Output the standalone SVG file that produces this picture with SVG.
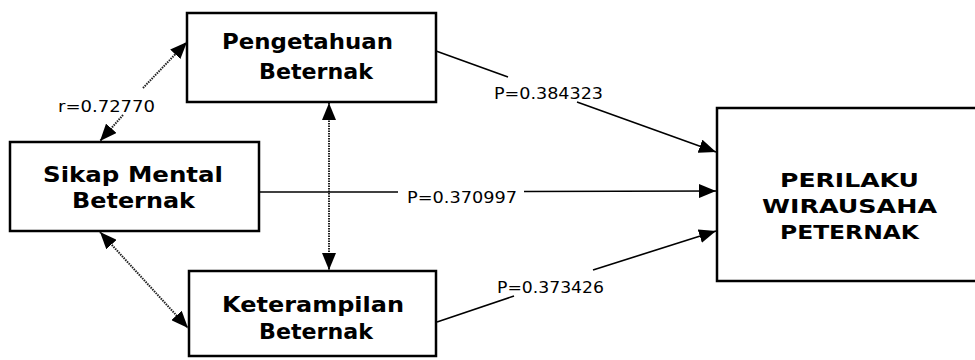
<svg xmlns="http://www.w3.org/2000/svg" width="975" height="360" viewBox="0 0 975 360">
  <style>
    .box { fill: #ffffff; stroke: #000000; stroke-width: 2.5; }
    .name { font-family: "DejaVu Sans", Verdana, "Liberation Sans", sans-serif; font-weight: bold; fill: #000000; }
    .coef { font-family: "DejaVu Sans", Verdana, "Liberation Sans", sans-serif; font-size: 16px; fill: #000000; }
    .path { fill: none; stroke: #000000; stroke-width: 1.6; }
    .corr { fill: none; stroke: #222222; stroke-width: 2; stroke-dasharray: 1.5 1; }
  </style>
  <defs>
    <marker id="head" viewBox="0 0 17 14" refX="17" refY="7" markerWidth="17" markerHeight="14" markerUnits="userSpaceOnUse" orient="auto-start-reverse">
      <path d="M0,0 L17,7 L0,14 Z" fill="#000000"/>
    </marker>
  </defs>

  <rect width="975" height="360" fill="#ffffff"/>

  <!-- connectors -->
  <g id="connectors">
    <!-- correlations (dotted, double-headed) -->
    <line class="corr" x1="123" y1="115" x2="100" y2="141" marker-end="url(#head)"/>
    <line class="corr" x1="143" y1="88" x2="187" y2="42" marker-end="url(#head)"/>
    <line class="corr" x1="329" y1="103" x2="329" y2="270" marker-start="url(#head)" marker-end="url(#head)"/>
    <line class="corr" x1="100" y1="232" x2="188" y2="328" marker-start="url(#head)" marker-end="url(#head)"/>

    <!-- paths to PERILAKU WIRAUSAHA PETERNAK -->
    <line class="path" x1="436" y1="51" x2="508" y2="77"/>
    <line class="path" x1="577" y1="102" x2="716" y2="152" marker-end="url(#head)"/>

    <line class="path" x1="259" y1="192" x2="398" y2="192"/>
    <line class="path" x1="524" y1="191.5" x2="716" y2="191" marker-end="url(#head)"/>

    <line class="path" x1="437" y1="322" x2="514" y2="296"/>
    <line class="path" x1="593" y1="270" x2="716" y2="231" marker-end="url(#head)"/>

    <text class="coef" x="58" y="112" textLength="97" lengthAdjust="spacingAndGlyphs">r=0.72770</text>
    <text class="coef" x="494" y="99" textLength="109" lengthAdjust="spacingAndGlyphs">P=0.384323</text>
    <text class="coef" x="407" y="203" textLength="110" lengthAdjust="spacingAndGlyphs">P=0.370997</text>
    <text class="coef" x="497" y="293" textLength="107" lengthAdjust="spacingAndGlyphs">P=0.373426</text>
  </g>

  <g id="pengetahuan">
    <rect class="box" x="187" y="13" width="249" height="89"/>
    <text class="name" font-size="22" x="222" y="49" textLength="171" lengthAdjust="spacingAndGlyphs">Pengetahuan</text>
    <text class="name" font-size="22" x="259" y="79" textLength="114" lengthAdjust="spacingAndGlyphs">Beternak</text>
  </g>

  <g id="sikap-mental">
    <rect class="box" x="10" y="142" width="249" height="89"/>
    <text class="name" font-size="22" x="43" y="182" textLength="180" lengthAdjust="spacingAndGlyphs">Sikap Mental</text>
    <text class="name" font-size="22" x="72" y="208" textLength="123" lengthAdjust="spacingAndGlyphs">Beternak</text>
  </g>

  <g id="keterampilan">
    <rect class="box" x="189" y="271" width="247" height="85"/>
    <text class="name" font-size="22" x="222" y="312" textLength="182" lengthAdjust="spacingAndGlyphs">Keterampilan</text>
    <text class="name" font-size="22" x="259" y="339" textLength="114" lengthAdjust="spacingAndGlyphs">Beternak</text>
  </g>

  <g id="perilaku">
    <rect class="box" x="717" y="108" width="270" height="173"/>
    <text class="name" font-size="19" x="780" y="187" textLength="139" lengthAdjust="spacingAndGlyphs">PERILAKU</text>
    <text class="name" font-size="19" x="762" y="213" textLength="175" lengthAdjust="spacingAndGlyphs">WIRAUSAHA</text>
    <text class="name" font-size="19" x="780" y="239" textLength="139" lengthAdjust="spacingAndGlyphs">PETERNAK</text>
  </g>
</svg>
